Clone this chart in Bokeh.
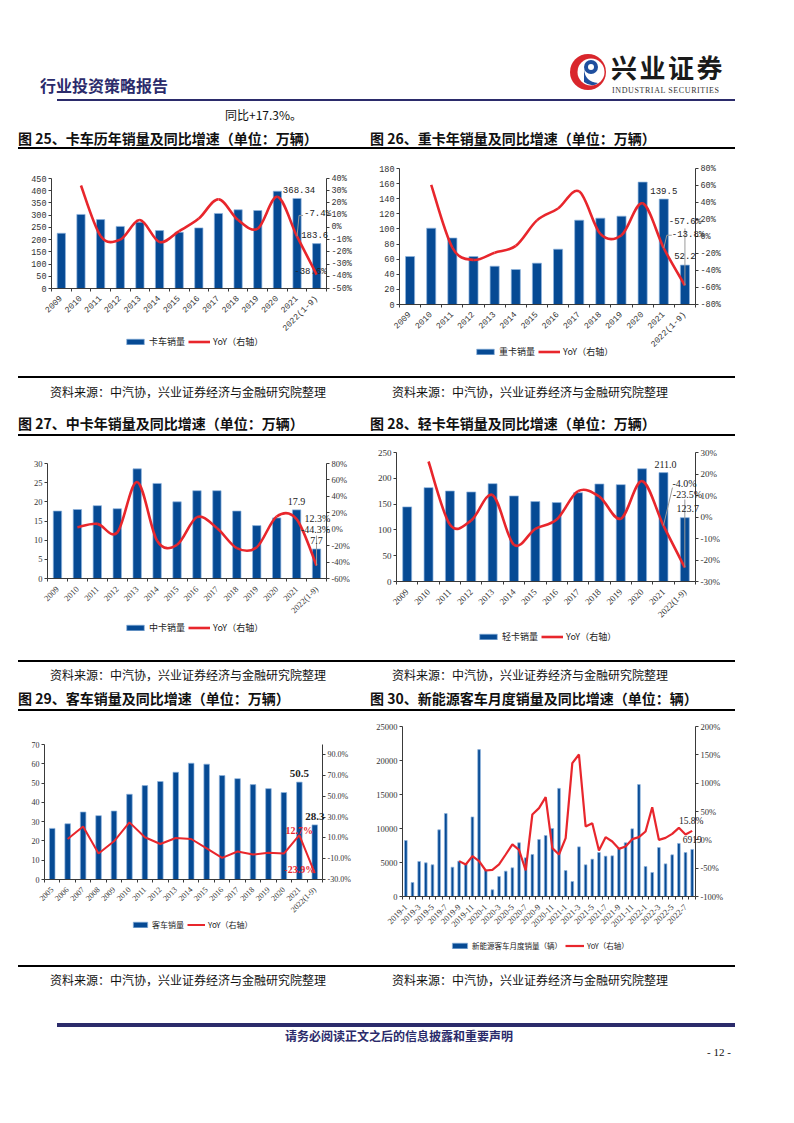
import math
from bokeh.plotting import figure
from bokeh.models import (Range1d, LinearAxis, FixedTicker, PrintfTickFormatter, Legend,
                          LegendItem, Div, ColumnDataSource, Label)
from bokeh.layouts import column, row
from bokeh.embed import file_html
from bokeh.resources import INLINE

# ---------------- data ----------------
years_a = ["2009", "2010", "2011", "2012", "2013", "2014", "2015", "2016", "2017",
           "2018", "2019", "2020", "2021", "2022(1-9)"]

truck_sales = [226, 303, 282, 254, 271, 237, 230, 248, 307, 322, 319, 398, 368.34, 183.6]
truck_yoy = [None, 34.3, -7.0, -10.0, 6.0, -12.0, -3.0, 7.2, 23.0, 6.0, -1.0, 25.0, -7.4, -38.6]

heavy_sales = [63.5, 101, 88, 63.5, 50.7, 46.3, 54.7, 73.2, 111.6, 114.3, 116.9, 162, 139.5, 52.2]
heavy_yoy = [None, 60.8, -13.0, -27.5, -19.0, -11.0, 19.0, 33.0, 53.0, 3.0, 1.5, 39.0, -13.8, -57.6]

medium_sales = [17.6, 18.0, 19.0, 18.2, 28.6, 24.8, 20.0, 22.9, 22.9, 17.6, 13.8, 15.8, 17.9, 7.7]
medium_yoy = [None, 2.4, 6.5, -4.0, 57.5, -14.0, -19.0, 14.7, 1.5, -23.0, -22.0, 15.5, 12.3, -44.3]

light_sales = [144.6, 181.9, 175.4, 173.5, 189.6, 165.8, 154.9, 153.0, 172.0, 189.0, 187.7, 218.5, 211.0, 123.7]
light_yoy = [None, 25.8, -3.5, -1.6, 10.2, -12.9, -5.5, -1.2, 12.0, 9.5, -0.8, 16.7, -4.0, -23.5]

years_bus = ["2005", "2006", "2007", "2008", "2009", "2010", "2011", "2012", "2013", "2014",
             "2015", "2016", "2017", "2018", "2019", "2020", "2021", "2022(1-9)"]
bus_sales = [26.5, 28.9, 35.0, 33.1, 35.5, 44.2, 48.7, 50.8, 55.6, 60.3, 59.8, 53.9, 52.3,
             49.2, 47.1, 45.1, 50.5, 28.3]
bus_yoy = [None, 9.0, 21.0, -5.0, 6.8, 25.0, 10.7, 4.2, 10.0, 9.0, 0.0, -9.2, -3.0, -6.0,
           -4.3, -5.0, 12.7, -23.9]

months_nev = ([f"2019-{m}" for m in range(1, 13)] + [f"2020-{m}" for m in range(1, 13)] +
              [f"2021-{m}" for m in range(1, 13)] + [f"2022-{m}" for m in range(1, 9)])
nev_sales = [8235, 2060, 5150, 4950, 4660, 9800, 12200, 4310, 5200, 4850, 11700, 21600,
             3900, 980, 2940, 3730, 4220, 7900, 5690, 6180, 8380, 8970, 10000, 15900,
             3820, 2200, 7300, 4660, 5490, 6470, 5930, 5980, 7060, 7900, 9950, 16470,
             4410, 3530, 7200, 4800, 6130, 7800, 6470, 6919]
nev_yoy = [None] * 8 + [-37.6, -43.5, -28.8, -37.6,
                        -54.1, -52.9, -43.5, -25.9, -8.2, -17.6, -54.1, 44.7, 55.9, 75.3, -14.7, -25.9,
                        2.9, 135.3, 150.6, 23.5, 29.4, -18.8, 4.7, -2.9, -15.9, -11.8, 1.2, 4.7,
                        14.7, 57.6, 0.0, 3.5, 10.6, 21.2, 9.4, 15.8]

# ---------------- styles ----------------
BAR = "#064a94"
EDGE = "#8fb4de"
RED = "#e8262c"
AX = "#3a3a3a"
LEAD = "#9a9a9a"
CJK = "Noto Sans CJK SC"
MONO = "Liberation Mono"
SERIF = "Liberation Serif"


def bez(xs, ys):
    pts = [(x, y) for x, y in zip(xs, ys) if y is not None]
    d = dict(x0=[], y0=[], x1=[], y1=[], cx0=[], cy0=[], cx1=[], cy1=[])
    n = len(pts)
    for i in range(n - 1):
        p0 = pts[i - 1] if i > 0 else pts[i]
        p1, p2 = pts[i], pts[i + 1]
        p3 = pts[i + 2] if i + 2 < n else pts[i + 1]
        d["x0"].append(p1[0]); d["y0"].append(p1[1])
        d["x1"].append(p2[0]); d["y1"].append(p2[1])
        d["cx0"].append(p1[0] + (p2[0] - p0[0]) / 6); d["cy0"].append(p1[1] + (p2[1] - p0[1]) / 6)
        d["cx1"].append(p2[0] - (p3[0] - p1[0]) / 6); d["cy1"].append(p2[1] - (p3[1] - p1[1]) / 6)
    return d


SCALES = {}


def chart(cats, bars, yoy, W, H, axL, axR, axT, axB, ymax, ystep, rmin, rmax, rticks, rfmt, bw,
          font, fs, lab_bar, lab_line, leg_xy, leg_fs="9px", smooth=True, label_every=1,
          glyph_w=22, lw=2.6):
    """axL/axR/axT/axB: pixel positions (inside the figure) of the plot box edges."""
    n = len(cats)
    xs = list(range(n))
    sx = (axR - axL) / n
    sy = (axB - axT) / ymax
    sr = (axB - axT) / (rmax - rmin)
    p = figure(width=W, height=H,
               x_range=Range1d(-0.5 - axL / sx, n - 0.5 + (W - axR) / sx),
               y_range=Range1d(-(H - axB) / sy, ymax + axT / sy),
               output_backend="svg", toolbar_location=None,
               min_border_left=0, min_border_right=0, min_border_top=0, min_border_bottom=0)
    SCALES[id(p)] = (sx, sr)
    p.outline_line_color = None
    p.grid.visible = False
    p.extra_y_ranges = {"r": Range1d(rmin - (H - axB) / sr, rmax + axT / sr)}
    rb = p.vbar(x=xs, top=bars, width=bw, fill_color=BAR, line_color=EDGE, line_width=0.7)
    if smooth:
        src = ColumnDataSource(bez(xs, yoy))
        rl = p.bezier(x0="x0", y0="y0", x1="x1", y1="y1", cx0="cx0", cy0="cy0", cx1="cx1",
                      cy1="cy1", source=src, line_color=RED, line_width=lw, y_range_name="r")
    else:
        rl = p.line(xs, [float("nan") if v is None else v for v in yoy], line_color=RED,
                    line_width=lw, y_range_name="r")
    xa = p.xaxis[0]
    xa.fixed_location = 0
    xa.bounds = (-0.5, n - 0.5)
    xa.ticker = FixedTicker(ticks=xs[::label_every], minor_ticks=[i - 0.5 for i in range(n + 1)])
    xa.major_label_overrides = {i: cats[i] for i in xs}
    xa.major_label_orientation = math.pi / 4
    xa.major_tick_line_color = None
    xa.minor_tick_in = 0
    xa.minor_tick_out = 3
    xa.minor_tick_line_color = AX
    xa.major_label_standoff = 3
    ya = p.yaxis[0]
    ya.fixed_location = -0.5
    ya.bounds = (0, ymax)
    ya.ticker = FixedTicker(ticks=[k * ystep for k in range(int(round(ymax / ystep)) + 1)])
    ra = LinearAxis(y_range_name="r", ticker=FixedTicker(ticks=rticks),
                    formatter=PrintfTickFormatter(format=rfmt), fixed_location=n - 0.5,
                    bounds=(rmin, rmax))
    p.add_layout(ra, "right")
    for ax in (xa, ya, ra):
        ax.major_label_text_font = font
        ax.major_label_text_font_size = fs
        ax.major_label_text_color = "#333333"
        ax.major_label_text_font_style = "normal"
        ax.axis_line_color = AX
    for ax in (ya, ra):
        ax.minor_tick_line_color = None
        ax.major_tick_in = 0
        ax.major_tick_out = 3
        ax.major_tick_line_color = AX
        ax.major_label_standoff = 2
    leg = Legend(items=[LegendItem(label=lab_bar, renderers=[rb]),
                        LegendItem(label=lab_line, renderers=[rl])],
                 location=leg_xy, orientation="horizontal", border_line_color=None,
                 background_fill_alpha=0, label_text_font=CJK, label_text_font_size=leg_fs,
                 glyph_width=glyph_w, glyph_height=7, padding=0, margin=0, spacing=3,
                 label_standoff=3, label_height=8, label_text_color="#222222")
    p.add_layout(leg)
    return p


def ann(p, x, y, s, dx=0, dy=0, align="center", base="bottom", font=MONO, size="9px",
        color="#222222", bold=False, rname="default"):
    # dy: screen pixels, negative = upward
    kw = dict(x=x, y=y, text=s, text_align=align, text_baseline=base, text_font=font,
              text_font_size=size, text_color=color, x_offset=dx, y_offset=-dy,
              text_font_style="bold" if bold else "normal")
    if rname != "default":
        kw["y_range_name"] = rname
    p.add_layout(Label(**kw))


def leader(p, i, v, path):
    """Thin grey callout line starting at the YoY point (i, v); path = pixel offsets."""
    sx, sr = SCALES[id(p)]
    xs = [i] + [i + dx / sx for dx, dy in path]
    ys = [v] + [v - dy / sr for dx, dy in path]
    p.line(xs, ys, line_color=LEAD, line_width=1, y_range_name="r")


# ---------------- charts ----------------
p25 = chart(years_a, truck_sales, truck_yoy, 365, 226, 51, 326, 28, 138, 450, 50, -50, 40,
            list(range(-50, 41, 10)), "%d%%", 0.42, MONO, "8.5px", "卡车销量", "YoY（右轴）",
            (124, 28))
leader(p25, 12, truck_yoy[12], [(2, -21), (6, -21)])
ann(p25, 12, truck_sales[12], f"{truck_sales[12]:.2f}", dx=2, dy=-5)
ann(p25, 13, truck_sales[13], f"{truck_sales[13]:.1f}", dx=-2, dy=-6)
ann(p25, 12, truck_yoy[12], f"{truck_yoy[12]:.1f}%", dx=7, dy=-17, align="left", rname="r")
ann(p25, 13, truck_yoy[13], f"{truck_yoy[13]:.1f}%", dx=10, dy=2, align="right", rname="r")

p26 = chart(years_a, heavy_sales, heavy_yoy, 429, 226, 34, 330, 18, 154, 180, 20, -80, 80,
            list(range(-80, 81, 20)), "%d%%", 0.43, MONO, "8.5px", "重卡销量", "YoY（右轴）",
            (109, 18))
leader(p26, 13, heavy_yoy[13], [(0, -57)])
leader(p26, 12, heavy_yoy[12], [(3, -13), (8, -13)])
ann(p26, 12, heavy_sales[12], f"{heavy_sales[12]:.1f}", dy=-5)
ann(p26, 13, heavy_sales[13], f"{heavy_sales[13]:.1f}", dy=-6)
ann(p26, 13, heavy_yoy[13], f"{heavy_yoy[13]:.1f}%", dx=0, dy=-58, rname="r")
ann(p26, 12, heavy_yoy[12], f"{heavy_yoy[12]:.1f}%", dx=8, dy=-8, align="left", rname="r")

p27 = chart(years_a, medium_sales, medium_yoy, 365, 223, 47, 326, 26, 141, 30, 5, -60, 80,
            list(range(-60, 81, 20)), "%d%%", 0.42, SERIF, "8.5px", "中卡销量", "YoY（右轴）",
            (124, 26))
leader(p27, 13, medium_yoy[13], [(0, -30)])
ann(p27, 12, medium_sales[12], f"{medium_sales[12]:.1f}", dy=-5, font=SERIF, size="10px")
ann(p27, 13, medium_sales[13], f"{medium_sales[13]:.1f}", dy=-5, font=SERIF, size="10px")
ann(p27, 12, medium_yoy[12], f"{medium_yoy[12]:.1f}%", dx=8, dy=5, align="left", font=SERIF,
    size="10px", rname="r")
ann(p27, 13, medium_yoy[13], f"{medium_yoy[13]:.1f}%", dx=-1, dy=-31, font=SERIF, size="10px",
    rname="r")

p28 = chart(years_a, light_sales, light_yoy, 429, 223, 31, 330, 15, 144, 250, 50, -30, 30,
            list(range(-30, 31, 10)), "%d%%", 0.42, SERIF, "9px", "轻卡销量", "YoY（右轴）",
            (112, 17))
leader(p28, 12, light_yoy[12], [(9, -38)])
leader(p28, 13, light_yoy[13], [(0, -68)])
ann(p28, 12, light_sales[12], f"{light_sales[12]:.1f}", dx=2, dy=-5, font=SERIF, size="10px")
ann(p28, 13, light_sales[13], f"{light_sales[13]:.1f}", dx=3, dy=-6, font=SERIF, size="10px")
ann(p28, 12, light_yoy[12], f"{light_yoy[12]:.1f}%", dx=9, dy=-37, align="left", font=SERIF,
    size="10px", rname="r")
ann(p28, 13, light_yoy[13], f"{light_yoy[13]:.1f}%", dx=-12, dy=-68, align="left", font=SERIF,
    size="10px", rname="r")

p29 = chart(years_bus, bus_sales, bus_yoy, 365, 253, 44, 322, 32, 167, 70, 10, -30, 100,
            list(range(-30, 91, 20)), "%.1f%%", 0.36, SERIF, "8px", "客车销量", "YoY（右轴）",
            (131, 35), leg_fs="8px", smooth=False, glyph_w=18, lw=2.0)
ann(p29, 16, bus_sales[16], f"{bus_sales[16]:.1f}", dy=-5, font=SERIF, size="11px", bold=True)
ann(p29, 17, bus_sales[17], f"{bus_sales[17]:.1f}", dy=-5, font=SERIF, size="11px", bold=True)
ann(p29, 16, bus_yoy[16], f"{bus_yoy[16]:.1f}%", dy=-5, base="middle", font=SERIF, size="10px",
    bold=True, color=RED, rname="r")
ann(p29, 17, bus_yoy[17], f"{bus_yoy[17]:.1f}%", dx=-15, dy=-4, base="middle", font=SERIF,
    size="10px", bold=True, color=RED, rname="r")

p30 = chart(months_nev, nev_sales, nev_yoy, 429, 253, 37, 330, 14, 184, 25000, 5000, -100, 200,
            list(range(-100, 201, 50)), "%d%%", 0.4, SERIF, "8.5px", "新能源客车月度销量（辆）",
            "YoY（右轴）", (85, 14), leg_fs="7.5px", smooth=False, label_every=2, glyph_w=19,
            lw=2.2)
ann(p30, 43, nev_sales[43], f"{nev_sales[43]}", dy=-6, font=SERIF, size="9.5px")
ann(p30, 43, nev_yoy[43], f"{nev_yoy[43]:.1f}%", dx=-1, dy=-5, font=SERIF, size="9.5px",
    rname="r")


# ---------------- page text blocks ----------------
def t(x, y, s, size, bold=False, color="#111111", family=f"'{CJK}'", extra=""):
    return (f'<div style="position:absolute;left:{x}px;top:{y - size / 2:.1f}px;font-size:{size}px;'
            f'line-height:{size}px;font-weight:{"bold" if bold else "normal"};color:{color};'
            f'font-family:{family};white-space:nowrap;{extra}">{s}</div>')


def hl(x, y, w, th, color="#000000"):
    return (f'<div style="position:absolute;left:{x}px;top:{y - th / 2:.1f}px;width:{w}px;'
            f'height:{th}px;background:{color}"></div>')


def block(h, inner):
    return Div(text=f'<div style="position:relative;width:794px;height:{h}px;overflow:hidden">'
                    f'{inner}</div>', width=794, height=h, margin=0)


NAVY = "#2b2b6b"
SRC = "资料来源：中汽协，兴业证券经济与金融研究院整理"
logo = ('<svg width="40" height="40" style="position:absolute;left:568px;top:52px">'
        '<circle cx="20" cy="20" r="18" fill="#d9262c"/>'
        '<circle cx="23" cy="20" r="13.5" fill="#ffffff"/>'
        '<circle cx="23" cy="15" r="7" fill="#1f4f9e"/>'
        '<path d="M16 17 Q17 30 30 31 Q24 36 16 30 Z" fill="#1f4f9e"/>'
        '<circle cx="23" cy="15" r="3" fill="#ffffff"/></svg>')

headA = (t(40, 85, "行业投资策略报告", 16, True, NAVY) + logo +
         t(611, 67, "兴业证券", 26, True, "#1a1a1a", extra="letter-spacing:2.5px;") +
         t(612, 91, "INDUSTRIAL SECURITIES", 8, False, "#333333", f"'{SERIF}'",
           "letter-spacing:0.6px;") +
         hl(57, 100, 678, 1.5, NAVY) +
         t(225, 115, "同比+17.3%。", 12) +
         t(18, 138, "图 25、卡车历年销量及同比增速（单位：万辆）", 14, True) +
         t(370, 138, "图 26、重卡年销量及同比增速（单位：万辆）", 14, True) +
         hl(18, 148, 717, 1.5))
divA = block(150, headA)

divB = block(61, hl(18, 1, 717, 1.5) + t(50, 16, SRC, 12) + t(392, 16, SRC, 12) +
             t(18, 47, "图 27、中卡年销量及同比增速（单位：万辆）", 14, True) +
             t(370, 47, "图 28、轻卡年销量及同比增速（单位：万辆）", 14, True) +
             hl(18, 59, 717, 1.5))
divC = block(52, hl(18, 1, 717, 1.5) + t(50, 15, SRC, 12) + t(392, 15, SRC, 12) +
             t(18, 38, "图 29、客车销量及同比增速（单位：万辆）", 14, True) +
             t(370, 38, "图 30、新能源客车月度销量及同比增速（单位：辆）", 14, True) +
             hl(18, 50, 717, 1.5))
divD = block(158, hl(18, 1, 717, 1.5) + t(50, 15, SRC, 12) + t(392, 15, SRC, 12) +
             hl(57, 60, 678, 3.5, NAVY) +
             t(285, 71, "请务必阅读正文之后的信息披露和重要声明", 12, True, NAVY) +
             t(707, 87, "- 12 -", 11, False, "#111111", f"'{SERIF}'"))

page = column(divA, row(p25, p26, spacing=0), divB, row(p27, p28, spacing=0), divC,
              row(p29, p30, spacing=0), divD, spacing=0)

open("out.html", "w").write(file_html(page, INLINE))
